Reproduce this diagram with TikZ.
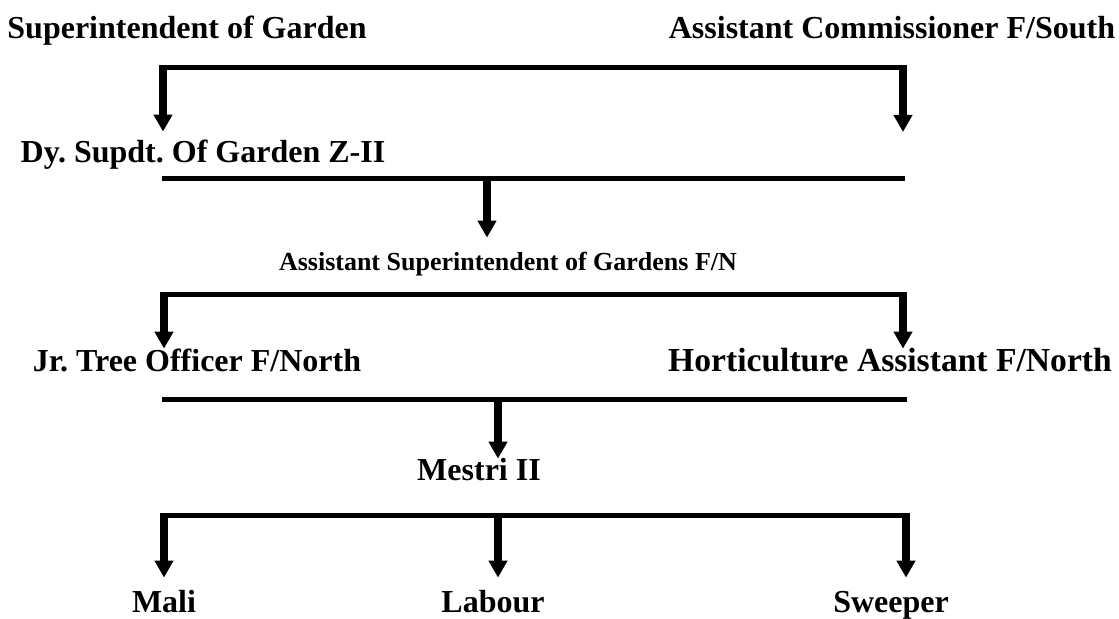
\documentclass[tikz,border=0pt]{standalone}
\usepackage{fontspec}
\setmainfont{Liberation Serif}
\usetikzlibrary{arrows.meta}
\frenchspacing

\begin{document}
\begin{tikzpicture}[
  x=0.5pt,
  y=-0.5pt,
  every node/.style={font=\fontsize{16}{19}\selectfont\bfseries, inner sep=0pt,
    text height=11pt, text depth=3.5pt, anchor=base},
  bar/.style={line width=2.5pt},
  feed/.style={line width=4pt, shorten <=-1.25pt,
    -{Triangle[width=9pt,length=8.5pt]}}
]
  \useasboundingbox (0,0) rectangle (1119,619);

  % ---- posts ------------------------------------------------------------
  \node (supt)    at (187,39)  {Superintendent of Garden};
  \node (acomm)   at (892,39)  {Assistant Commissioner F/South};
  \node (dy)      at (203,163) {Dy. Supdt. Of Garden Z-II};
  \node[font=\fontsize{13}{15}\selectfont\bfseries]
    (asup)    at (508,271) {Assistant Superintendent of Gardens F/N};
  \node (jto)     at (197,372) {Jr. Tree Officer F/North};
  \node[font=\fontsize{16.8}{19}\selectfont\bfseries]
    (hort)    at (890,372) {Horticulture Assistant F/North};
  \node (mestri)  at (479,481) {Mestri II};
  \node (mali)    at (164,613) {Mali};
  \node (labour)  at (493,613) {Labour};
  \node (sweeper) at (891,613) {Sweeper};

  % ---- top bracket --------------------------------------------------------
  \coordinate (top l) at (163,68);
  \coordinate (top r) at (903,68);
  \coordinate (top end) at (903,132);
  \draw[bar] (top l) -- (top r);
  \draw[feed, shorten >=4.5pt] (top l) -- (top l |- dy.north);
  \draw[feed] (top r) -- (top end);

  % ---- down to the assistant superintendent -------------------------------
  \coordinate (mid1 l) at (162,179);
  \coordinate (mid1 r) at (905,179);
  \coordinate (mid1 c) at (487,179);
  \draw[bar] (mid1 l) -- (mid1 r);
  \draw[feed, shorten >=5.5pt] (mid1 c) -- (mid1 c |- asup.north);

  % ---- split to the two officers --------------------------------------------
  \coordinate (fork l) at (164,295);
  \coordinate (fork r) at (903,295);
  \draw[bar] (fork l) -- (fork r);
  \draw[feed, shorten >=0.5pt] (fork l) -- (fork l |- jto.north);
  \draw[feed, shorten >=0.5pt] (fork r) -- (fork r |- hort.north);

  % ---- down to the mestri ------------------------------------------------------
  \coordinate (mid2 l) at (162,400);
  \coordinate (mid2 r) at (907,400);
  \coordinate (mid2 c) at (498,400);
  \draw[bar] (mid2 l) -- (mid2 r);
  \draw[feed] (mid2 c) -- (mid2 c |- mestri.north);

  % ---- the staff -----------------------------------------------------------------
  \coordinate (staff l) at (164,516);
  \coordinate (staff c) at (498,516);
  \coordinate (staff r) at (906,516);
  \draw[bar] (staff l) -- (staff r);
  \draw[feed, shorten >=6.5pt] (staff l) -- (staff l |- mali.north);
  \draw[feed, shorten >=6.5pt] (staff c) -- (staff c |- labour.north);
  \draw[feed, shorten >=6.5pt] (staff r) -- (staff r |- sweeper.north);
\end{tikzpicture}
\end{document}
